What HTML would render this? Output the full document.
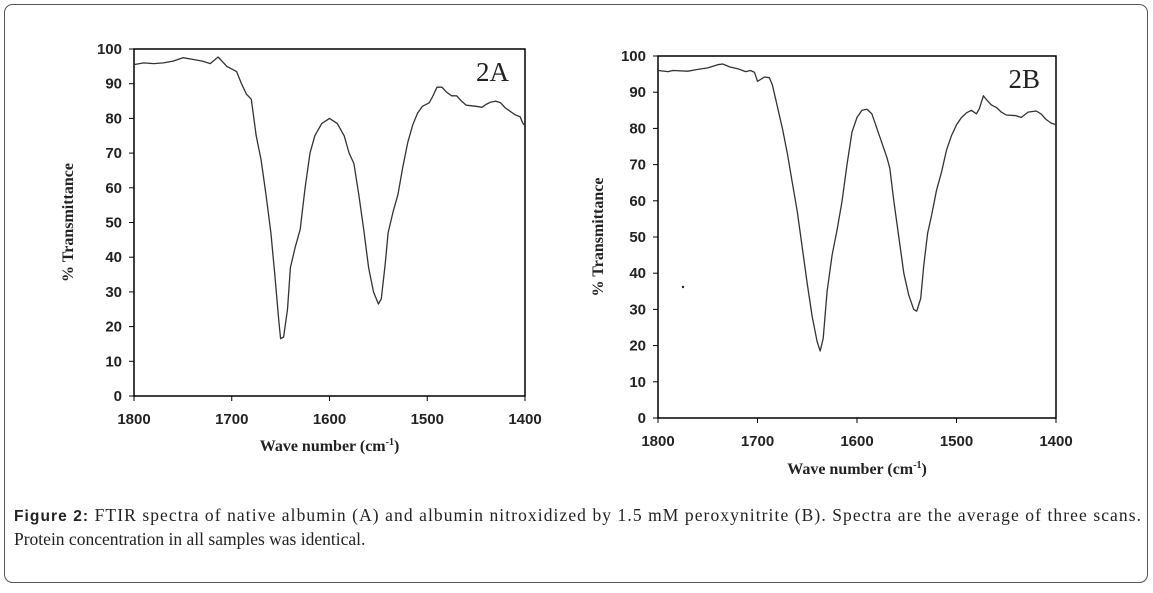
<!DOCTYPE html>
<html><head><meta charset="utf-8">
<style>
html,body{margin:0;padding:0;background:#fff;}
body{width:1153px;height:588px;position:relative;overflow:hidden;font-family:"Liberation Sans",sans-serif;}
svg text{font-family:"Liberation Sans",sans-serif;}
</style></head>
<body>
<svg id="fig" width="1153" height="588" xmlns="http://www.w3.org/2000/svg">
<rect x="4.5" y="4.5" width="1143" height="578" rx="8" fill="none" stroke="#555" stroke-width="1"/>
<g id="chartA"></g>
<g id="chartB"></g>
<circle cx="683" cy="287" r="1.2" fill="#222"/>
<text x="14" y="521" font-size="17.5" textLength="1127" lengthAdjust="spacing" style="font-family:'Liberation Serif',serif" fill="#222"><tspan font-weight="bold" style="font-family:'Liberation Sans',sans-serif" font-size="15.5">Figure 2:</tspan> FTIR spectra of native albumin (A) and albumin nitroxidized by 1.5 mM peroxynitrite (B). Spectra are the average of three scans.</text>
<text x="14" y="545" font-size="17.5" style="font-family:'Liberation Serif',serif" fill="#222">Protein concentration in all samples was identical.</text>
</svg>
<script>
const xTicks=[1800,1700,1600,1500,1400];
const yTicks=[0,10,20,30,40,50,60,70,80,90,100];
const wnA=[1800,1790,1780,1770,1760,1750,1740,1730,1722,1714,1705,1695,1690,1685,1680,1675,1670,1665,1660,1656,1652,1650,1647,1643,1640,1635,1630,1625,1620,1615,1608,1600,1592,1585,1580,1575,1570,1565,1560,1555,1550,1547,1543,1540,1535,1530,1525,1520,1515,1510,1505,1498,1495,1490,1485,1480,1475,1470,1465,1460,1450,1444,1440,1435,1430,1425,1420,1410,1405,1402,1400];
const tA=[95.5,96,95.8,96,96.5,97.5,97,96.5,95.8,97.7,95,93.5,90,87,85.5,75,68,58,47,35,22,16.5,17,25,37,43,48,60,70,75,78.5,80,78.5,75,70,67,58,48,37,30,26.5,28,38,47,53,58,66,73,78,81.5,83.5,84.5,86,89,89,87.5,86.5,86.5,85,83.8,83.5,83.2,84,84.7,85,84.5,83,81,80.5,78.5,78];
const wnB=[1800,1790,1785,1770,1760,1750,1740,1735,1728,1720,1712,1707,1703,1700,1697,1693,1688,1685,1680,1675,1670,1665,1660,1655,1650,1645,1640,1637,1634,1630,1625,1620,1615,1610,1605,1600,1595,1590,1585,1580,1575,1570,1567,1563,1558,1553,1548,1543,1540,1536,1533,1529,1525,1520,1515,1510,1505,1500,1495,1490,1485,1480,1477,1473,1470,1465,1460,1455,1450,1440,1435,1428,1420,1415,1410,1405,1400];
const tB=[96,95.7,96,95.8,96.3,96.7,97.6,97.8,97,96.5,95.7,96,95.5,93,93.5,94.2,94,92,86,80,73,65,57,47,37,28,21,18.5,22,35,45,52,60,70,79,83,85,85.3,84,80,76,72,69,60,50,40,34,30,29.5,33,42,51,56,63,68,74,78,81,83,84.3,85,84,85.5,89,88,86.5,85.8,84.5,83.7,83.5,83,84.5,84.8,84,82.5,81.5,81];

const NS="http://www.w3.org/2000/svg";
function el(p,tag,attrs){const e=document.createElementNS(NS,tag);for(const k in attrs)e.setAttribute(k,attrs[k]);p.appendChild(e);return e;}
function draw(g,box,wn,t,label,ytx,xty){
  const X=v=>box.l+(1800-v)/400*(box.r-box.l);
  const Y=v=>box.b-v/100*(box.b-box.t);
  const frame=el(g,'rect',{x:box.l,y:box.t,width:box.r-box.l,height:box.b-box.t,fill:'none',stroke:'#000','stroke-width':1.5});
  
  
  yTicks.forEach(v=>{
    const tk=el(g,'line',{x1:box.l-5,x2:box.l,y1:Y(v),y2:Y(v),stroke:'#000','stroke-width':1});
    
    
    const tx=el(g,'text',{x:box.l-12,y:Y(v)+5,'text-anchor':'end','font-size':15,'font-weight':'bold',fill:'#222'});
    tx.textContent=v;
    
    
  });
  xTicks.forEach(v=>{
    const tk=el(g,'line',{x1:X(v),x2:X(v),y1:box.b,y2:box.b+5,stroke:'#000','stroke-width':1});
    
    
    const tx=el(g,'text',{x:X(v),y:box.b+28,'text-anchor':'middle','font-size':15,'font-weight':'bold',fill:'#222'});
    tx.textContent=v;
    
    
  });
  let d='';
  wn.forEach((w,i)=>{d+=(i?'L':'M')+X(w).toFixed(1)+','+Y(t[i]).toFixed(1);});
  const p=el(g,'path',{d:d,fill:'none',stroke:'#333','stroke-width':1.3,'stroke-linejoin':'round'});
  
  
  const lb=el(g,'text',{x:box.r-16,y:box.t+32,'text-anchor':'end','font-size':27,fill:'#222',style:"font-family:'Liberation Serif',serif"});
  lb.textContent=label;
  
  
  const yt=el(g,'text',{transform:`translate(${ytx},${(box.t+box.b)/2}) rotate(-90)`,'text-anchor':'middle','font-size':16,'font-weight':'bold',fill:'#222',style:"font-family:'Liberation Serif',serif"});
  yt.textContent='% Transmittance';
  
  
  const xt=el(g,'text',{x:(box.l+box.r)/2,y:xty,'text-anchor':'middle','font-size':16,'font-weight':'bold',fill:'#222',style:"font-family:'Liberation Serif',serif"});
  xt.innerHTML='Wave number (cm<tspan dy="-6" font-size="10">-1</tspan><tspan dy="6">)</tspan>';
  
  
}
draw(document.getElementById('chartA'),{l:134,r:525,t:49,b:396},wnA,tA,'2A',73,451);
draw(document.getElementById('chartB'),{l:658,r:1056,t:56,b:418},wnB,tB,'2B',603,474);
</script>
</body></html>
